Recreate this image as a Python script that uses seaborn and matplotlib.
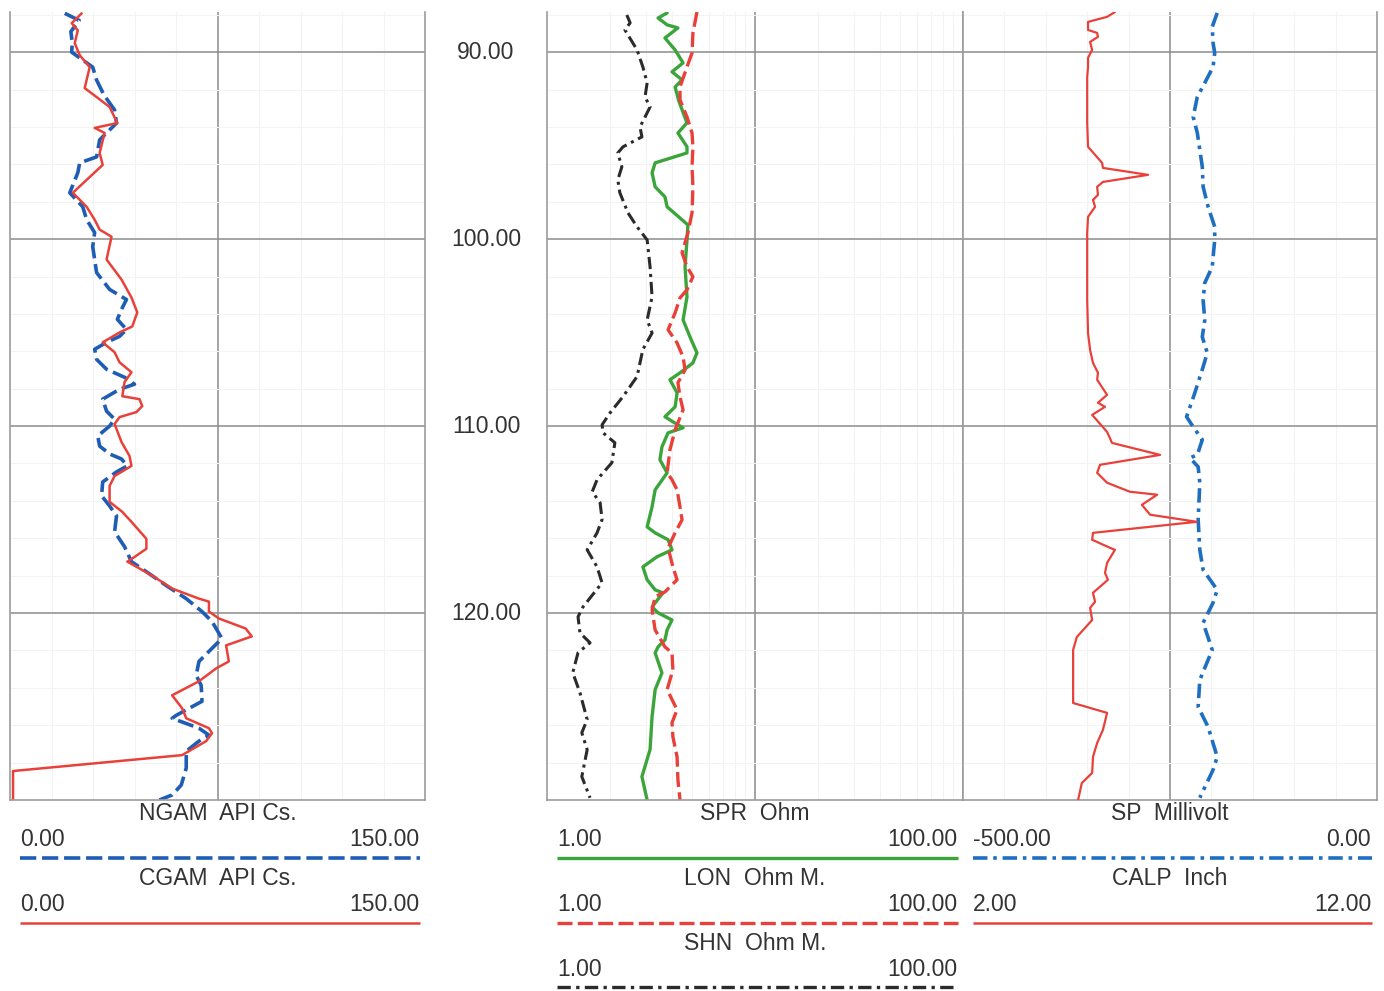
import numpy as np
import matplotlib
matplotlib.use("Agg")
import matplotlib.pyplot as plt
import seaborn as sns

# ---------------- data (depth, value) ----------------
ngam = [(87.92, 19.8), (88.3, 25.0), (88.9, 22.0), (89.5, 22.5), (90.0, 22.3), (90.8, 29.9),
        (91.49, 31.3), (92.3, 34.0), (93.09, 37.8), (93.79, 38.5), (94.69, 32.4), (95.6, 31.3),
        (95.92, 25.2), (96.45, 24.5), (97.52, 21.6), (98.27, 26.3), (98.96, 27.7), (99.65, 30.6),
        (100.4, 29.9), (101.79, 31.3), (102.69, 36.0), (103.23, 42.1), (103.76, 40.3), (104.29, 38.8),
        (104.83, 42.1), (105.2, 39.6), (105.52, 34.9), (105.89, 30.6), (106.43, 31.3), (106.96, 34.9),
        (107.39, 41.4), (107.76, 45.0), (108.03, 39.6), (108.56, 33.5), (109.2, 34.9), (109.63, 37.8),
        (110.0, 36.0), (110.53, 31.7), (111.07, 32.4), (111.49, 36.0), (111.76, 40.3), (112.13, 42.4),
        (112.45, 38.5), (112.99, 33.5), (113.73, 33.1), (114.27, 36.0), (114.8, 38.5), (115.65, 37.8),
        (116.45, 41.4), (117.25, 43.9), (117.79, 49.3), (118.53, 56.5), (119.23, 63.7), (119.92, 69.4),
        (120.45, 73.0), (121.36, 76.6), (121.89, 73.0), (122.59, 68.3), (123.33, 67.3), (123.87, 69.1),
        (124.72, 69.4), (125.47, 60.1), (125.63, 58.6), (126.16, 68.3), (126.53, 71.9), (126.85, 68.3),
        (127.39, 63.7), (128.29, 63.7), (129.2, 61.9), (129.73, 58.6), (130.0, 54.0)]

cgam = [(87.92, 25.9), (88.45, 22.3), (88.83, 24.5), (89.52, 23.4), (90.16, 25.2), (90.8, 28.8),
        (91.92, 27.0), (92.4, 31.3), (92.93, 36.0), (93.79, 38.8), (94.05, 30.6), (94.32, 34.2),
        (95.39, 32.4), (96.03, 33.5), (96.83, 27.7), (97.52, 22.7), (98.27, 27.7), (98.96, 30.6),
        (99.49, 32.4), (99.87, 36.7), (101.09, 34.9), (102.16, 40.3), (103.12, 43.9), (103.92, 46.0),
        (104.67, 44.2), (104.99, 39.6), (105.52, 33.5), (106.05, 37.8), (106.59, 39.6), (107.12, 43.9),
        (107.65, 41.4), (108.4, 40.6), (108.56, 46.8), (108.93, 47.8), (109.25, 45.7), (109.52, 39.6),
        (109.89, 37.8), (110.85, 40.3), (111.6, 43.2), (112.13, 43.9), (112.67, 37.8), (113.2, 36.0),
        (114.05, 36.0), (114.59, 40.6), (115.12, 43.9), (116.03, 49.3), (116.56, 49.3), (116.93, 45.7),
        (117.25, 42.4), (118.0, 51.4), (118.69, 58.6), (119.23, 68.3), (119.39, 71.9), (119.92, 71.9),
        (120.29, 75.5), (120.83, 85.2), (121.25, 87.4), (121.73, 78.1), (122.59, 79.1), (122.96, 74.5),
        (123.65, 68.3), (124.4, 58.6), (125.09, 62.2), (125.63, 63.7), (126.16, 71.9), (126.43, 73.0),
        (126.85, 70.9), (127.6, 62.2), (128.45, 1.1), (130.0, 1.1)]

spr = [(87.9, 3.78), (88.17, 3.42), (88.54, 3.78), (88.7, 4.26), (89.24, 3.69), (89.88, 4.13),
       (90.57, 4.51), (91.05, 3.99), (91.48, 4.46), (91.86, 4.13), (92.6, 4.3), (93.78, 4.71),
       (94.32, 4.26), (95.06, 4.71), (95.39, 4.71), (95.92, 3.31), (96.45, 3.20), (97.2, 3.31),
       (97.74, 3.69), (98.27, 3.78), (99.24, 4.76), (100.04, 4.71), (101.48, 4.61), (103.09, 4.71),
       (104.32, 4.51), (105.23, 4.87), (106.08, 5.26), (106.62, 5.03), (107.15, 4.36), (107.52, 3.90),
       (108.22, 4.22), (108.97, 4.13), (109.5, 3.69), (109.77, 4.03), (110.09, 4.51), (110.36, 3.82),
       (111.11, 3.57), (111.8, 3.49), (112.5, 3.78), (113.41, 3.31), (114.32, 3.20), (115.39, 3.03),
       (115.71, 3.31), (116.08, 3.82), (116.62, 3.99), (116.99, 3.38), (117.53, 2.89), (118.22, 3.03),
       (118.76, 3.31), (118.92, 3.61), (119.67, 3.20), (119.99, 3.42), (120.37, 3.99), (120.9, 3.78),
       (121.44, 3.69), (121.81, 3.42), (122.13, 3.31), (123.2, 3.57), (124.1, 3.31), (125.54, 3.20),
       (127.3, 3.13), (128.75, 2.86), (130.0, 3.03)]

lon = [(87.85, 5.26), (88.97, 5.03), (90.04, 4.98), (90.79, 4.71), (91.86, 4.36), (92.55, 4.36),
       (93.46, 4.71), (94.32, 4.98), (95.06, 5.03), (96.13, 4.98), (97.2, 5.03), (98.59, 4.98),
       (99.66, 4.76), (100.73, 4.46), (101.48, 4.71), (102.01, 5.03), (102.71, 4.71), (103.14, 4.36),
       (103.94, 4.13), (104.85, 3.82), (105.55, 4.22), (106.3, 4.51), (106.99, 4.61), (107.68, 4.26),
       (108.43, 4.36), (109.13, 4.51), (110.2, 4.13), (111.27, 3.90), (112.5, 3.78), (112.87, 3.99),
       (113.41, 4.22), (114.32, 4.36), (115.01, 4.46), (115.71, 4.13), (116.51, 3.82), (117.53, 4.03),
       (118.22, 4.22), (118.87, 3.69), (119.13, 3.31), (119.83, 3.20), (120.9, 3.31), (121.81, 3.69),
       (122.13, 3.99), (123.04, 4.03), (124.1, 3.78), (125.17, 4.22), (125.87, 3.99), (126.62, 4.03),
       (127.69, 4.22), (128.92, 4.26), (130.0, 4.36)]

shn = [(88.01, 2.42), (88.43, 2.51), (88.81, 2.37), (89.88, 2.71), (90.79, 2.89), (91.64, 3.03),
       (92.39, 2.96), (92.93, 3.13), (94.0, 2.80), (94.53, 2.86), (95.06, 2.32), (95.39, 2.19),
       (96.13, 2.29), (96.83, 2.19), (97.52, 2.24), (98.59, 2.45), (99.34, 2.71), (100.04, 3.03),
       (101.48, 3.13), (103.09, 3.20), (104.32, 3.03), (105.02, 3.20), (105.9, 2.89), (107.35, 2.71),
       (108.42, 2.32), (109.29, 2.01), (109.93, 1.84), (110.36, 1.86), (110.89, 2.12), (111.96, 2.05),
       (112.87, 1.74), (113.51, 1.65), (114.1, 1.80), (115.0, 1.84), (115.71, 1.74), (116.62, 1.56),
       (117.53, 1.74), (118.38, 1.84), (119.67, 1.49), (120.2, 1.41), (121.06, 1.44), (121.59, 1.61),
       (122.12, 1.41), (123.19, 1.33), (124.26, 1.44), (125.7, 1.56), (126.4, 1.47), (127.31, 1.56),
       (128.75, 1.47), (129.88, 1.61)]

sp = [(87.9, -193), (88.65, -199), (89.5, -198), (90.04, -196), (90.79, -198), (91.64, -208),
      (92.39, -217), (93.46, -222), (94.32, -217), (95.22, -214), (96.13, -211), (97.2, -210),
      (98.27, -204), (99.34, -196), (100.04, -196), (101.48, -199), (102.34, -208), (103.25, -210),
      (104.32, -208), (105.23, -211), (106.08, -205), (106.83, -210), (108.22, -220), (109.5, -230),
      (110.04, -222), (110.73, -211), (111.54, -217), (111.7, -226), (112.18, -216), (113.03, -214),
      (115.01, -216), (116.62, -214), (117.69, -210), (118.76, -193), (119.45, -198), (120.52, -210),
      (121.97, -199), (123.58, -214), (125.02, -216), (126.09, -204), (127.69, -193), (128.39, -198),
      (129.88, -214)]

calp = [(87.85, 5.67), (88.11, 5.48), (88.38, 5.02), (88.81, 5.02), (88.97, 5.24), (89.18, 5.26),
        (89.45, 5.07), (89.88, 5.12), (90.3, 5.02), (90.79, 5.02), (91.32, 5.00), (92.55, 5.00),
        (93.78, 5.00), (95.06, 5.02), (95.49, 5.19), (95.92, 5.36), (96.19, 5.38), (96.56, 6.47),
        (96.94, 5.38), (97.2, 5.24), (97.63, 5.26), (97.9, 5.14), (98.27, 5.19), (98.81, 5.02),
        (99.66, 5.00), (103.25, 5.00), (105.02, 5.02), (105.93, 5.07), (106.62, 5.14), (107.15, 5.26),
        (107.52, 5.24), (108.33, 5.48), (108.75, 5.26), (108.97, 5.43), (109.4, 5.12), (110.31, 5.48),
        (110.9, 5.60), (111.54, 6.76), (112.07, 5.31), (112.5, 5.24), (113.03, 5.48), (113.51, 6.03),
        (113.67, 6.69), (114.21, 6.32), (114.74, 6.52), (115.12, 7.65), (115.71, 5.14), (116.08, 5.12),
        (116.51, 5.55), (116.62, 5.67), (117.32, 5.48), (117.85, 5.43), (118.22, 5.50), (118.92, 5.14),
        (119.4, 5.19), (119.72, 5.07), (120.37, 5.12), (121.28, 4.75), (121.97, 4.66), (124.81, 4.66),
        (125.34, 5.48), (126.25, 5.38), (126.95, 5.24), (127.69, 5.14), (128.55, 5.12), (129.09, 4.87),
        (130.0, 4.78)]

depth_ticks = [90, 100, 110, 120]
depth_range = (87.85, 130.0)

gam_range = (0, 150)
res_range = (1, 100)
sp_range = (-500, 0)
calp_range = (2, 12)

# header definitions: (title, left scale, right scale, colour, linestyle, width)
BLUE = "#1f5db5"
RED = "#e9413a"
GREEN = "#3ba53b"
BLACK = "#2b2b2b"
SPBLUE = "#1e6fc2"
DASH = (0, (4.5, 1.6))
DASHDOT = (0, (4.0, 1.6, 1.0, 1.6))

headers = [
    [("NGAM  API Cs.", "0.00", "150.00", BLUE, DASH, 2.6),
     ("CGAM  API Cs.", "0.00", "150.00", RED, "-", 1.8)],
    [("SPR  Ohm", "1.00", "100.00", GREEN, "-", 2.4),
     ("LON  Ohm M.", "1.00", "100.00", RED, DASH, 2.4),
     ("SHN  Ohm M.", "1.00", "100.00", BLACK, DASHDOT, 2.4)],
    [("SP  Millivolt", "-500.00", "0.00", SPBLUE, DASHDOT, 2.6),
     ("CALP  Inch", "2.00", "12.00", RED, "-", 1.8)],
]

# ---------------- figure ----------------
sns.set_style("white")
plt.rcParams['font.family'] = ['Liberation Sans', 'DejaVu Sans']
TXT = "#333333"
FS = 16.5

W, H = 1384, 991
fig = plt.figure(figsize=(W / 100, H / 100), dpi=100)
TOP, BOTTOM = 12, 800
TRACKS = [(10, 425), (547, 963), (963, 1377)]


def px_axes(x0, x1, y0, y1):
    return fig.add_axes([x0 / W, 1 - y1 / H, (x1 - x0) / W, (y1 - y0) / H])


def style_track(ax, major_x, minor_x):
    ax.set_ylim(depth_range[1], depth_range[0])
    ax.set_yticks(depth_ticks)
    ax.set_yticks(np.arange(88, 130, 2), minor=True)
    ax.set_xticks(major_x)
    ax.set_xticks(minor_x, minor=True)
    ax.grid(which='major', color="#8c8c8c", lw=1.1)
    ax.grid(which='minor', color="#f3f3f3", lw=0.8)
    ax.tick_params(which='both', length=0, labelbottom=False, labelleft=False,
                   labeltop=False, labelright=False)
    ax.spines['top'].set_visible(False)
    for s in ['left', 'right', 'bottom']:
        ax.spines[s].set_color("#9c9c9c")
        ax.spines[s].set_linewidth(1.2)
    ax.set_axisbelow(True)
    ax.set_xlabel("")
    ax.set_ylabel("")


def draw(ax, curve, color, ls, lw):
    d, v = zip(*curve)
    sns.lineplot(x=list(v), y=list(d), ax=ax, sort=False, estimator=None,
                 color=color, linestyle=ls, linewidth=lw,
                 solid_joinstyle='round', dash_joinstyle='round')


# Track 1: gamma
ax1 = px_axes(*TRACKS[0], TOP, BOTTOM)
ax1.set_xlim(*gam_range)
draw(ax1, ngam, BLUE, DASH, 2.6)
draw(ax1, cgam, RED, "-", 1.8)
style_track(ax1, [75], np.arange(15, 150, 15))
ax1.set_xlim(*gam_range)

# Track 2: resistivity (log)
ax2 = px_axes(*TRACKS[1], TOP, BOTTOM)
ax2.set_xscale('log')
draw(ax2, shn, BLACK, DASHDOT, 2.2)
draw(ax2, spr, GREEN, "-", 2.4)
draw(ax2, lon, RED, DASH, 2.4)
ax2.set_xlim(*res_range)
style_track(ax2, [10], [k * 10 ** e for e in (0, 1) for k in range(2, 10)])
ax2.set_xlim(*res_range)

# Track 3: SP + caliper
ax3 = px_axes(*TRACKS[2], TOP, BOTTOM)
draw(ax3, sp, SPBLUE, DASHDOT, 2.6)
style_track(ax3, [-250], np.arange(-450, 0, 50))
ax3.set_xlim(*sp_range)
ax3b = ax3.twiny()
draw(ax3b, calp, RED, "-", 1.6)
ax3b.set_xlim(*calp_range)
ax3b.set_ylim(depth_range[1], depth_range[0])
ax3b.set_xticks([])
ax3b.set_xlabel("")
ax3b.set_ylabel("")
for s in ax3b.spines.values():
    s.set_visible(False)

# Depth labels between tracks 1 and 2
axd = px_axes(TRACKS[0][1], TRACKS[1][0], TOP, BOTTOM)
axd.set_ylim(depth_range[1], depth_range[0])
axd.set_xlim(0, 1)
axd.axis('off')
for d in depth_ticks:
    axd.text(0.5, d, f"{d:.2f}", ha='center', va='center', fontsize=FS, color=TXT)

# Header / legend area
hdr = px_axes(0, W, BOTTOM, H)
hdr.set_xlim(0, W)
hdr.set_ylim(H, BOTTOM)
hdr.axis('off')
for (x0, x1), entries in zip(TRACKS, headers):
    for i, (title, lo, hi, color, ls, lw) in enumerate(entries):
        off = 64.5 * i
        hdr.text((x0 + x1) / 2, 814 + off, title, ha='center', va='center', fontsize=FS, color=TXT)
        hdr.text(x0 + 10, 840 + off, lo, ha='left', va='center', fontsize=FS, color=TXT)
        hdr.text(x1 - 6, 840 + off, hi, ha='right', va='center', fontsize=FS, color=TXT)
        hdr.plot([x0 + 10, x1 - 5], [858 + off] * 2, color=color, linestyle=ls, lw=lw,
                 solid_capstyle='butt', dash_capstyle='butt')

fig.savefig("out.png", dpi=100)
